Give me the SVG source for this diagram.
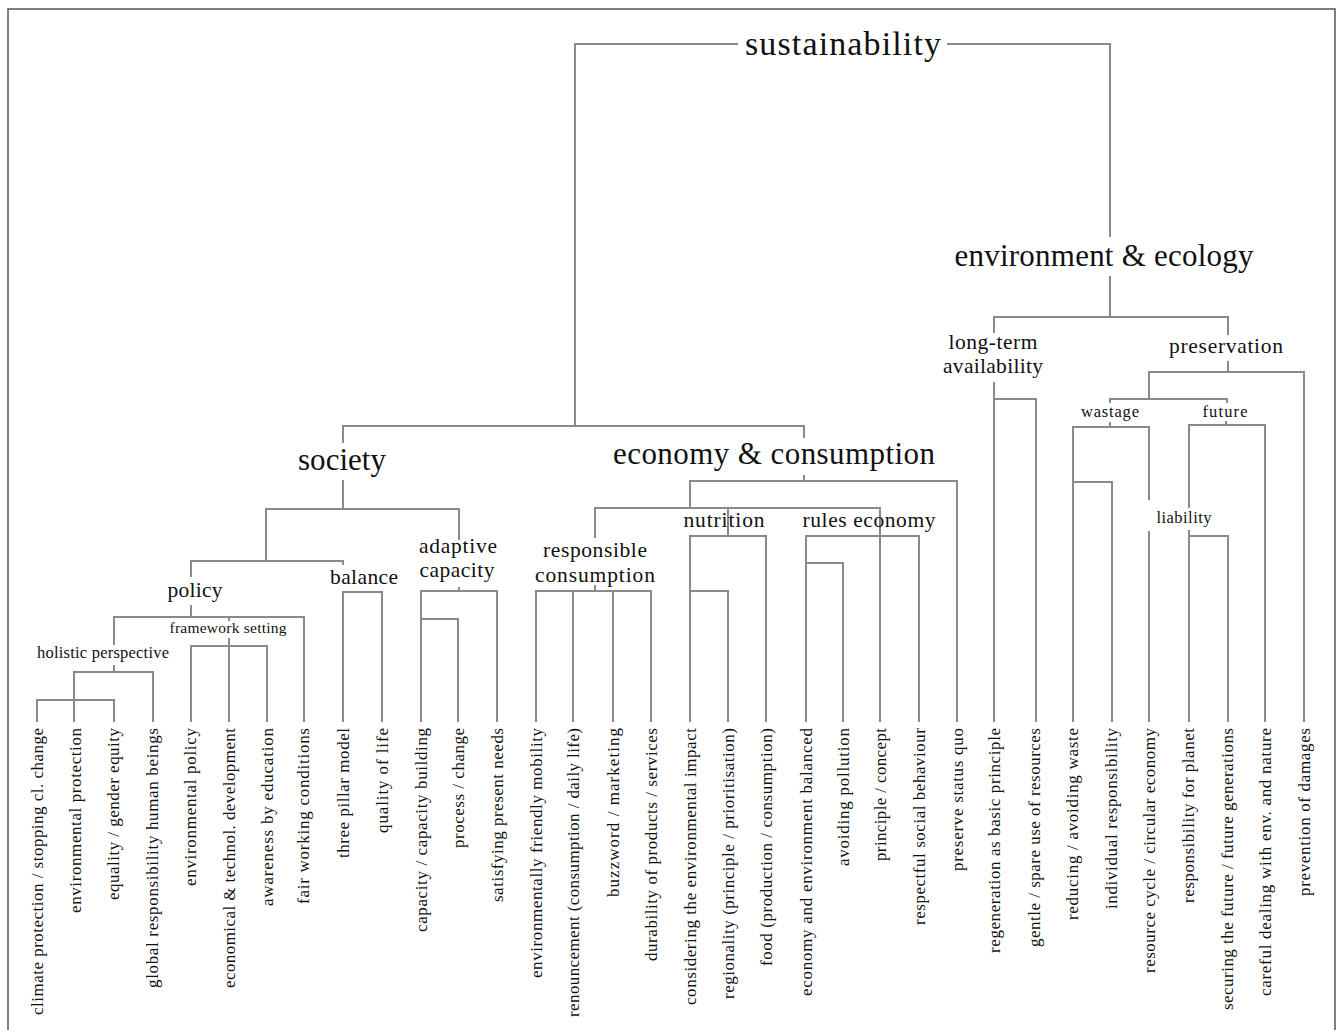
<svg xmlns="http://www.w3.org/2000/svg" width="1338" height="1030" viewBox="0 0 1338 1030">
<style>
.c{fill:none;stroke:#8a8a8a;stroke-width:2}
.frame{fill:none;stroke:#555;stroke-width:1.5}
.t{font-family:"Liberation Serif","DejaVu Serif",serif;fill:#111;text-anchor:middle}
.xl{font-size:34px}
.l{font-size:31px}
.m{font-size:21.5px}
.s{font-size:16.5px}
.xs{font-size:15.5px}
.leaf{font-size:17px;text-anchor:end}
</style>
<rect width="1338" height="1030" fill="#fff"/>
<path class="frame" d="M8,1032 V9 H1335 V1032"/>
<g id="connectors">
<path class="c" d="M575,426 V44 H738 M947,44 H1110 V237"/>
<path class="c" d="M1110,276 V317 M994,333 V317 H1228 V335"/>
<path class="c" d="M343,443 V426 H804 V438"/>
<path class="c" d="M343,480 V509 M266,561 V509 H459 V540 M191,577 V561 H343 V565"/>
<path class="c" d="M191,605 V617 M114,645 V617 H304 V722 M229,617 V621 M229,638 V722 M191,722 V646 H267 V722"/>
<path class="c" d="M114,665 V672 M74,722 V672 H153 V722 M37,722 V700 H114 V722"/>
<path class="c" d="M343,722 V592 H382 V722"/>
<path class="c" d="M459,587 V591 M421,722 V591 H497 V722 M421,619 H458 V722"/>
<path class="c" d="M804,475 V481 M690,508 V481 H957 V722 M595,538 V508 H880 V722 M728,508 V536"/>
<path class="c" d="M690,722 V536 H766 V722 M690,591 H728 V722 M806,722 V536 H919 V722 M806,563 H843 V722"/>
<path class="c" d="M595,585 V591 M536,722 V591 H651 V722 M573,591 V722 M613,591 V722"/>
<path class="c" d="M994,382 V722 M994,399 H1036 V722"/>
<path class="c" d="M1228,361 V372 M1149,399 V372 H1304 V722 M1110,403 V399 H1227 V403"/>
<path class="c" d="M1110,422 V427 M1073,722 V427 H1149 V500 M1149,531 V722 M1073,482 H1112 V722"/>
<path class="c" d="M1226,421 V425 M1189,508 V425 H1265 V722 M1189,530 V722 M1189,536 H1228 V722"/>
</g>
<g id="n-sustainability"><text class="t xl" x="843" y="55" textLength="196">sustainability</text></g>
<g id="n-environment"><text class="t l" x="1104" y="266" textLength="299">environment &amp; ecology</text></g>
<g id="n-society"><text class="t l" x="342" y="470" textLength="88">society</text></g>
<g id="n-economy"><text class="t l" x="774" y="464" textLength="322">economy &amp; consumption</text></g>
<g id="n-longterm"><text class="t m" x="993" y="349" textLength="89">long-term</text><text class="t m" x="993" y="373" textLength="100">availability</text></g>
<g id="n-preservation"><text class="t m" x="1226" y="353" textLength="114">preservation</text></g>
<g id="n-wastage"><text class="t s" x="1110" y="417" textLength="58">wastage</text></g>
<g id="n-future"><text class="t s" x="1225" y="417" textLength="45">future</text></g>
<g id="n-liability"><text class="t s" x="1184" y="523" textLength="55">liability</text></g>
<g id="n-policy"><text class="t m" x="195" y="597" textLength="55">policy</text></g>
<g id="n-balance"><text class="t m" x="364" y="584" textLength="68">balance</text></g>
<g id="n-adaptive"><text class="t m" x="458" y="553" textLength="78">adaptive</text><text class="t m" x="457" y="577" textLength="75">capacity</text></g>
<g id="n-responsible"><text class="t m" x="595" y="557" textLength="104">responsible</text><text class="t m" x="595" y="582" textLength="120">consumption</text></g>
<g id="n-nutrition"><text class="t m" x="724" y="527" textLength="81">nutrition</text></g>
<g id="n-rules"><text class="t m" x="869" y="527" textLength="133">rules economy</text></g>
<g id="n-holistic"><text class="t s" x="103" y="658" textLength="132">holistic perspective</text></g>
<g id="n-framework"><text class="t xs" x="228" y="633" textLength="117">framework setting</text></g>
<g id="leaves">
<g id="leaf1"><text class="t leaf" transform="translate(43,728) rotate(-90)" textLength="287">climate protection / stopping cl. change</text></g>
<g id="leaf2"><text class="t leaf" transform="translate(81,728) rotate(-90)" textLength="185">environmental protection</text></g>
<g id="leaf3"><text class="t leaf" transform="translate(119,728) rotate(-90)" textLength="172">equality / gender equity</text></g>
<g id="leaf4"><text class="t leaf" transform="translate(158,728) rotate(-90)" textLength="260">global responsibility human beings</text></g>
<g id="leaf5"><text class="t leaf" transform="translate(196,728) rotate(-90)" textLength="158">environmental policy</text></g>
<g id="leaf6"><text class="t leaf" transform="translate(235,728) rotate(-90)" textLength="260">economical &amp; technol. development</text></g>
<g id="leaf7"><text class="t leaf" transform="translate(273,728) rotate(-90)" textLength="178">awareness by education</text></g>
<g id="leaf8"><text class="t leaf" transform="translate(309,728) rotate(-90)" textLength="176">fair working conditions</text></g>
<g id="leaf9"><text class="t leaf" transform="translate(349,728) rotate(-90)" textLength="130">three pillar model</text></g>
<g id="leaf10"><text class="t leaf" transform="translate(388,728) rotate(-90)" textLength="105">quality of life</text></g>
<g id="leaf11"><text class="t leaf" transform="translate(427,728) rotate(-90)" textLength="204">capacity / capacity building</text></g>
<g id="leaf12"><text class="t leaf" transform="translate(464,728) rotate(-90)" textLength="120">process / change</text></g>
<g id="leaf13"><text class="t leaf" transform="translate(503,728) rotate(-90)" textLength="174">satisfying present needs</text></g>
<g id="leaf14"><text class="t leaf" transform="translate(542,728) rotate(-90)" textLength="250">environmentally friendly mobility</text></g>
<g id="leaf15"><text class="t leaf" transform="translate(579,728) rotate(-90)" textLength="289">renouncement (consumption / daily life)</text></g>
<g id="leaf16"><text class="t leaf" transform="translate(619,728) rotate(-90)" textLength="169">buzzword / marketing</text></g>
<g id="leaf17"><text class="t leaf" transform="translate(657,728) rotate(-90)" textLength="233">durability of products / services</text></g>
<g id="leaf18"><text class="t leaf" transform="translate(696,728) rotate(-90)" textLength="277">considering the environmental impact</text></g>
<g id="leaf19"><text class="t leaf" transform="translate(734,728) rotate(-90)" textLength="271">regionality (principle / prioritisation)</text></g>
<g id="leaf20"><text class="t leaf" transform="translate(772,728) rotate(-90)" textLength="238">food (production / consumption)</text></g>
<g id="leaf21"><text class="t leaf" transform="translate(812,728) rotate(-90)" textLength="268">economy and environment balanced</text></g>
<g id="leaf22"><text class="t leaf" transform="translate(849,728) rotate(-90)" textLength="138">avoiding pollution</text></g>
<g id="leaf23"><text class="t leaf" transform="translate(886,728) rotate(-90)" textLength="133">principle / concept</text></g>
<g id="leaf24"><text class="t leaf" transform="translate(925,728) rotate(-90)" textLength="197">respectful social behaviour</text></g>
<g id="leaf25"><text class="t leaf" transform="translate(963,728) rotate(-90)" textLength="143">preserve status quo</text></g>
<g id="leaf26"><text class="t leaf" transform="translate(1000,728) rotate(-90)" textLength="225">regeneration as basic principle</text></g>
<g id="leaf27"><text class="t leaf" transform="translate(1040,728) rotate(-90)" textLength="219">gentle / spare use of resources</text></g>
<g id="leaf28"><text class="t leaf" transform="translate(1078,728) rotate(-90)" textLength="192">reducing / avoiding waste</text></g>
<g id="leaf29"><text class="t leaf" transform="translate(1117,728) rotate(-90)" textLength="181">individual responsibility</text></g>
<g id="leaf30"><text class="t leaf" transform="translate(1155,728) rotate(-90)" textLength="245">resource cycle / circular economy</text></g>
<g id="leaf31"><text class="t leaf" transform="translate(1194,728) rotate(-90)" textLength="175">responsibility for planet</text></g>
<g id="leaf32"><text class="t leaf" transform="translate(1233,728) rotate(-90)" textLength="282">securing the future / future generations</text></g>
<g id="leaf33"><text class="t leaf" transform="translate(1271,728) rotate(-90)" textLength="268">careful dealing with env. and nature</text></g>
<g id="leaf34"><text class="t leaf" transform="translate(1310,728) rotate(-90)" textLength="168">prevention of damages</text></g>
</g>
</svg>
